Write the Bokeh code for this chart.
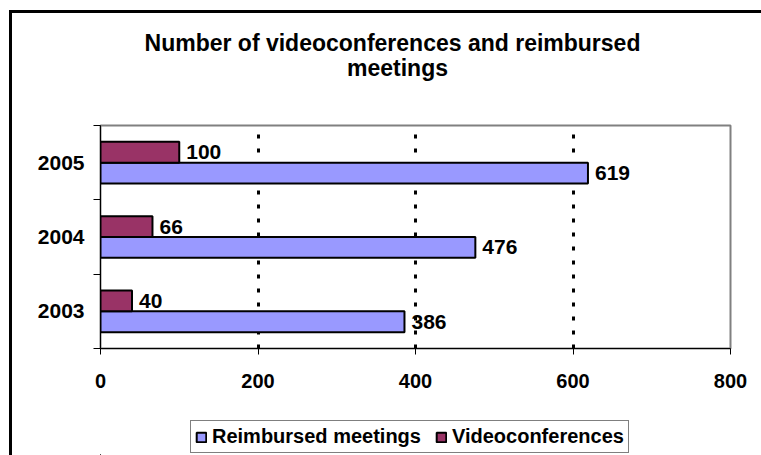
from bokeh.plotting import figure
from bokeh.layouts import column
from bokeh.models import FixedTicker, Legend, LegendItem, ColumnDataSource, Label
from bokeh.core.properties import value
from bokeh.embed import file_html
from bokeh.resources import INLINE

# ---- data ----
years = ["2003", "2004", "2005"]
reimbursed = [386, 476, 619]
videoconf = [40, 66, 100]
x_ticks = [0, 200, 400, 600, 800]
series_names = ["Reimbursed meetings", "Videoconferences"]
title_lines = ["Number of videoconferences and reimbursed", "meetings"]

FONT = "Liberation Sans"
C_REIMB = "#9999FF"
C_VIDEO = "#993366"

pos = [i + 0.5 for i in range(len(years))]
off = 0.14
bar_h = 0.28

src_r = ColumnDataSource(dict(y=[q - off for q in pos], v=reimbursed,
                              t=[str(v) for v in reimbursed]))
src_v = ColumnDataSource(dict(y=[q + off for q in pos], v=videoconf,
                              t=[str(v) for v in videoconf]))


def bare(fig):
    fig.outline_line_color = None
    fig.xgrid.grid_line_color = None
    fig.ygrid.grid_line_color = None
    fig.xgrid.visible = False
    fig.ygrid.visible = False


# ---- title strip ----
tf = figure(width=749, height=110, output_backend="svg", toolbar_location=None,
            x_range=(0, 800), y_range=(0, 1),
            x_axis_location=None, y_axis_location=None, min_border=0)
bare(tf)
for txt, cx, by in zip(title_lines, [292, 297], [81, 56]):
    tf.add_layout(Label(x=cx, y=by, x_units="screen", y_units="screen", text=txt,
                        text_align="center", text_baseline="alphabetic",
                        text_font=FONT, text_font_style="bold",
                        text_font_size="23px", text_color="black"))

# ---- main chart ----
p = figure(width=749, height=290, output_backend="svg", toolbar_location=None,
           x_range=(0, 800), y_range=(0, 3),
           min_border_left=88, min_border_right=31,
           min_border_top=2, min_border_bottom=65)

p.outline_line_color = "#808080"
p.outline_line_width = 2

r1 = p.hbar(y="y", left=0, right="v", height=bar_h, source=src_r,
            fill_color=C_REIMB, line_color="black", line_width=2)
r2 = p.hbar(y="y", left=0, right="v", height=bar_h, source=src_v,
            fill_color=C_VIDEO, line_color="black", line_width=2)

for s in (src_r, src_v):
    p.text(x="v", y="y", text="t", source=s, x_offset=7, text_baseline="middle",
           text_font=value(FONT), text_font_style="bold", text_font_size="21px",
           text_color="black")

# grid
p.ygrid.visible = False
p.xgrid.ticker = FixedTicker(ticks=x_ticks[1:])
p.xgrid.grid_line_color = "black"
p.xgrid.grid_line_width = 3
p.xgrid.grid_line_dash = "4 10"

# x axis
xa = p.xaxis[0]
xa.ticker = FixedTicker(ticks=x_ticks)
xa.axis_line_color = "black"
xa.major_tick_out = 6
xa.major_tick_in = 0
xa.minor_tick_out = 0
xa.major_label_standoff = 19
xa.major_label_text_font = FONT
xa.major_label_text_font_style = "bold"
xa.major_label_text_font_size = "20px"
xa.major_label_text_color = "black"

# y axis
ya = p.yaxis[0]
ya.ticker = FixedTicker(ticks=pos, minor_ticks=[0, 1, 2, 3])
ya.major_label_overrides = {q: y for q, y in zip(pos, years)}
ya.axis_line_color = "black"
ya.major_tick_out = 0
ya.major_tick_in = 0
ya.minor_tick_out = 7
ya.minor_tick_in = 0
ya.minor_tick_line_color = "black"
ya.major_label_standoff = 9
ya.major_label_text_font = FONT
ya.major_label_text_font_style = "bold"
ya.major_label_text_font_size = "21px"
ya.major_label_text_color = "black"

# ---- legend strip below the chart ----
lf = figure(width=749, height=42, output_backend="svg", toolbar_location=None,
            x_range=(1000, 1100), y_range=(10, 11),
            x_axis_location=None, y_axis_location=None, min_border=0)
bare(lf)
lr1 = lf.hbar(y="y", left=0, right="v", height=bar_h, source=src_r,
              fill_color=C_REIMB, line_color="black", line_width=2)
lr2 = lf.hbar(y="y", left=0, right="v", height=bar_h, source=src_v,
              fill_color=C_VIDEO, line_color="black", line_width=2)

legend = Legend(items=[LegendItem(label=series_names[0], renderers=[lr1]),
                       LegendItem(label=series_names[1], renderers=[lr2])],
                orientation="horizontal", location=(90, 2))
legend.label_text_font = FONT
legend.label_text_font_style = "bold"
legend.label_text_font_size = "20px"
legend.label_text_color = "black"
legend.glyph_width = 12
legend.glyph_height = 12
legend.label_standoff = 5
legend.spacing = 14
legend.padding = 4
legend.margin = 0
legend.border_line_color = "black"
legend.border_line_width = 1
lf.add_layout(legend, "center")

layout = column(tf, p, lf, spacing=0)
# outer chart-area border (left and top edges visible)
layout.styles = {"border-left": "3px solid black", "border-top": "3px solid black",
                 "margin-left": "9px", "margin-top": "10px"}

open("out.html", "w").write(file_html(layout, INLINE))
